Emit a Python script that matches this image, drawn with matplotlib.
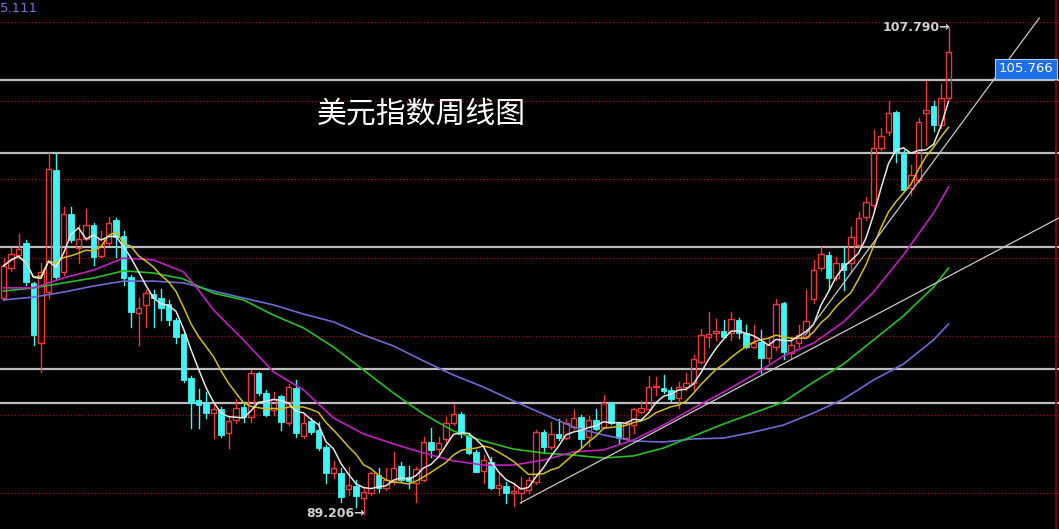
import numpy as np
import pandas as pd
import matplotlib
matplotlib.use("Agg")
import matplotlib.pyplot as plt
from matplotlib.patches import Rectangle

plt.rcParams['font.family'] = ['Noto Sans CJK SC', 'DejaVu Sans']

# weekly candles of the dollar index, oldest first
opens = [97.45, 98.60, 99.10, 99.55, 98.03, 95.73, 97.68, 102.34, 98.45, 100.66,
         99.36, 99.71, 100.24, 99.06, 99.55, 100.43, 99.82, 98.26, 96.88, 97.19,
         97.61, 97.45, 97.22, 96.61, 96.08, 94.40, 93.56, 93.44, 93.06, 93.21,
         92.29, 92.79, 93.29, 92.91, 94.59, 93.82, 93.17, 93.71, 92.68, 94.01,
         92.18, 92.75, 92.41, 91.76, 90.77, 90.77, 90.16, 90.27, 89.81, 90.00,
         90.69, 90.19, 90.42, 91.03, 90.61, 90.38, 90.50, 91.95, 91.68, 92.07,
         92.68, 93.02, 92.22, 91.57, 90.84, 91.19, 90.19, 90.27, 90.00, 90.00,
         90.12, 90.42, 92.33, 91.76, 92.26, 92.10, 92.52, 92.91, 92.14, 92.79,
         92.52, 93.44, 92.68, 92.10, 92.60, 93.10, 93.21, 94.05, 94.01, 93.94,
         93.63, 94.05, 94.20, 95.01, 95.96, 96.12, 96.19, 96.12, 96.61, 96.12,
         95.58, 95.77, 95.16, 95.58, 97.26, 95.35, 95.73, 95.96, 97.42, 98.60,
         99.10, 98.22, 98.79, 98.79, 99.48, 100.55, 101.01, 103.19, 103.80, 104.56,
         102.96, 101.66, 101.96, 104.52, 104.79, 104.06, 105.10]
highs = [98.98, 99.36, 99.90, 99.67, 98.06, 98.79, 102.99, 102.99, 100.93, 100.93,
         100.24, 100.85, 100.32, 100.01, 100.55, 100.51, 100.01, 98.33, 97.45, 97.76,
         97.76, 97.80, 97.38, 96.69, 96.12, 94.47, 93.98, 93.86, 93.44, 93.29,
         92.91, 93.59, 93.48, 94.70, 94.63, 93.94, 93.86, 93.75, 94.17, 94.32,
         93.06, 92.87, 92.72, 91.84, 91.22, 90.96, 90.99, 90.50, 90.23, 90.81,
         90.96, 90.96, 91.57, 91.19, 91.03, 90.99, 92.14, 92.49, 92.14, 92.91,
         93.40, 93.10, 92.29, 91.65, 91.45, 91.38, 90.77, 90.42, 90.38, 90.61,
         90.61, 92.41, 92.41, 92.72, 92.83, 92.83, 93.17, 92.98, 92.94, 93.21,
         93.75, 93.48, 92.72, 92.75, 93.25, 93.52, 94.47, 94.43, 94.51, 94.05,
         94.24, 94.59, 95.28, 96.27, 96.92, 96.65, 96.61, 96.92, 96.69, 96.42,
         96.42, 96.23, 95.96, 97.42, 97.30, 95.96, 96.42, 97.76, 98.91, 99.40,
         99.21, 99.02, 99.40, 100.17, 100.74, 101.31, 103.87, 103.95, 104.98, 104.60,
         103.11, 102.54, 104.33, 105.75, 104.98, 105.63, 107.79]
lows = [97.38, 98.49, 98.98, 97.95, 95.66, 94.63, 97.45, 98.14, 98.33, 99.59,
        98.79, 99.67, 98.71, 99.02, 99.48, 99.02, 97.95, 96.35, 95.66, 96.35,
        96.35, 96.61, 96.42, 95.73, 94.24, 92.49, 92.49, 92.87, 92.10, 92.14,
        91.72, 92.68, 92.72, 92.72, 93.75, 92.94, 92.98, 92.41, 92.60, 92.14,
        92.10, 92.26, 91.65, 90.38, 90.58, 89.66, 89.93, 89.47, 89.206, 89.93,
        90.04, 90.12, 90.35, 90.42, 90.19, 89.66, 90.46, 91.38, 91.38, 91.84,
        92.60, 92.14, 91.49, 90.80, 90.38, 90.16, 89.93, 89.62, 89.51, 89.62,
        90.00, 90.35, 91.53, 91.68, 92.03, 92.07, 92.45, 91.76, 91.80, 92.41,
        92.49, 92.64, 91.91, 92.07, 92.29, 93.06, 93.17, 93.75, 93.82, 93.52,
        93.25, 93.94, 93.94, 94.97, 95.58, 95.85, 95.96, 95.85, 95.92, 95.54,
        95.54, 94.59, 95.01, 95.47, 95.12, 95.16, 95.58, 95.92, 97.26, 98.52,
        97.76, 98.14, 97.76, 98.45, 99.40, 100.43, 100.82, 103.11, 103.68, 102.65,
        101.58, 101.39, 101.89, 103.30, 103.83, 103.95, 105.06]
closes = [98.68, 99.13, 99.33, 98.06, 96.04, 98.45, 102.38, 98.26, 100.66, 99.67,
          99.71, 100.24, 99.02, 99.71, 100.32, 99.78, 98.22, 96.92, 97.07, 97.64,
          97.45, 97.07, 96.61, 95.96, 94.32, 93.44, 93.37, 93.06, 93.21, 92.22,
          92.75, 93.25, 92.91, 94.59, 93.82, 92.98, 93.59, 92.72, 94.05, 92.29,
          92.68, 92.33, 91.72, 90.77, 90.96, 89.85, 90.31, 89.89, 90.04, 90.77,
          90.19, 90.50, 90.96, 90.50, 90.46, 90.92, 91.95, 91.65, 91.91, 92.68,
          93.02, 92.26, 91.53, 90.80, 91.26, 90.19, 90.31, 90.00, 90.08, 90.19,
          90.50, 92.33, 91.76, 92.26, 92.10, 92.68, 92.87, 92.07, 92.79, 92.45,
          93.44, 92.68, 92.10, 92.68, 93.21, 93.25, 94.05, 94.09, 93.90, 93.59,
          94.05, 94.20, 95.12, 96.04, 96.08, 96.19, 95.96, 96.65, 96.12, 95.58,
          95.73, 95.16, 95.66, 97.22, 95.39, 95.66, 96.04, 96.57, 98.52, 99.13,
          98.22, 98.79, 98.52, 99.78, 100.51, 101.12, 103.19, 103.64, 104.52, 103.03,
          101.58, 102.15, 104.18, 104.64, 104.06, 105.10, 106.85]

# long moving averages (history before the window is not shown)
ma_idx = [0, 4, 8, 12, 16, 20, 24, 26, 28, 32, 36, 40, 44, 48, 52, 56, 60, 64,
          68, 72, 76, 80, 84, 88, 92, 96, 100, 104, 108, 112, 116, 120, 124, 126]
ma20 = [97.84, 97.84, 98.22, 98.52, 98.98, 98.91, 98.45, 97.76, 97.00, 95.85,
        94.63, 93.94, 92.87, 92.26, 91.88, 91.53, 91.23, 91.07, 91.07, 91.26,
        91.57, 91.65, 92.03, 92.60, 93.25, 93.86, 94.51, 95.24, 95.73, 96.54,
        97.68, 99.10, 100.70, 101.69]
ma40 = [97.72, 97.84, 98.03, 98.22, 98.49, 98.41, 98.18, 97.90, 97.64, 97.38,
        96.80, 96.31, 95.58, 94.70, 93.82, 93.02, 92.37, 91.99, 91.68, 91.53,
        91.45, 91.34, 91.42, 91.72, 92.18, 92.64, 93.06, 93.48, 94.24, 94.93,
        95.85, 96.77, 97.87, 98.60]
ma60 = [97.38, 97.49, 97.68, 97.91, 98.10, 98.10, 98.03, 97.88, 97.72, 97.45,
        97.19, 96.84, 96.54, 96.04, 95.62, 95.05, 94.51, 94.05, 93.52, 93.02,
        92.52, 92.22, 91.99, 91.95, 92.07, 92.10, 92.33, 92.60, 93.06, 93.59,
        94.32, 94.93, 95.85, 96.46]

level_lines = [105.766, 103.00, 99.40, 94.74, 93.44]
grid_levels = [108, 105, 102, 99, 96, 93, 90]
# trend lines: (candle index, price) start and end
trend_a = [(106.9, 96.04), (138.1, 108.15)]
trend_b = [(68.9, 89.62), (140.7, 100.51)]

title = "美元指数周线图"
high_label = "107.790"
low_label = "89.206"
last_label = "105.766"
corner_label = "5.111"

UP = "#ee3a36"
DOWN = "#3ef4f4"
W, H = 1059, 529

fig = plt.figure(figsize=(W / 100, H / 100), dpi=100, facecolor="black")
ax = fig.add_axes([0, 0, 1, 1])
ax.set_facecolor("black")
ax.set_xlim(-0.4667, 140.733)
ax.set_ylim(88.627, 108.8407)
ax.axis("off")

for g in grid_levels:
    ax.axhline(g, color="#8a0c0c", lw=0.9, ls=(0, (1.2, 1.6)), zorder=1)
for lv in level_lines:
    ax.axhline(lv, color="#bdbdbd", lw=1.6, zorder=2)
ax.axvline(140.33, color="#9a0000", lw=1.2, zorder=2)

# candles
bw = 0.72
for i, (o, h, l, c) in enumerate(zip(opens, highs, lows, closes)):
    lo_b, hi_b = min(o, c), max(o, c)
    hgt = max(hi_b - lo_b, 0.04)
    if c >= o:
        ax.add_patch(Rectangle((i - bw / 2, lo_b), bw, hgt, facecolor="none",
                               edgecolor=UP, lw=1.0, zorder=3))
        ax.plot([i, i], [lo_b + hgt, h], color=UP, lw=1.0, zorder=3)
        ax.plot([i, i], [l, lo_b], color=UP, lw=1.0, zorder=3)
    else:
        ax.add_patch(Rectangle((i - bw / 2, lo_b), bw, hgt, facecolor=DOWN,
                               edgecolor=DOWN, lw=0.6, zorder=3))
        ax.plot([i, i], [l, h], color=DOWN, lw=1.0, zorder=3)

# moving averages
s = pd.Series(closes)
idx = np.arange(len(closes))
ax.plot(ma_idx, ma60, color="#6b6bd6", lw=1.2, zorder=4)
ax.plot(ma_idx, ma40, color="#22c222", lw=1.2, zorder=4)
ax.plot(ma_idx, ma20, color="#c21fc2", lw=1.2, zorder=4)
ax.plot(idx, s.rolling(10, min_periods=1).mean(), color="#d2c010", lw=1.1, zorder=4)
ax.plot(idx, s.rolling(5, min_periods=1).mean(), color="#e6e6e6", lw=1.1, zorder=4)

for (x0, y0), (x1, y1) in (trend_a, trend_b):
    ax.plot([x0, x1], [y0, y1], color="#c8c8c8", lw=0.9, zorder=5)

# labels
ax.text(len(closes) - 1 + 0.2, highs[-1], high_label + "→", ha="right", va="center",
        color="#d0d0d0", fontsize=9, fontweight="bold", family=["DejaVu Sans"], zorder=6)
ax.text(int(np.argmin(lows)) + 0.2, min(lows), low_label + "→", ha="right", va="center",
        color="#d0d0d0", fontsize=9, fontweight="bold", family=["DejaVu Sans"], zorder=6)
fig.text(1026 / W, 1 - 69 / H, last_label, ha="center", va="center", color="white",
         fontsize=9.5, family=["DejaVu Sans"],
         bbox=dict(boxstyle="square,pad=0.25", facecolor="#1c6fe6", edgecolor="#a8c8ff", lw=0.8))
fig.text(0.0, 1 - 8 / H, corner_label, ha="left", va="center", color="#7474d4",
         fontsize=9.5, family=["DejaVu Sans"])
fig.text(317 / W, 1 - 114 / H, title, ha="left", va="center", color="white", fontsize=21.5)

fig.savefig("out.png", dpi=100, facecolor="black")
